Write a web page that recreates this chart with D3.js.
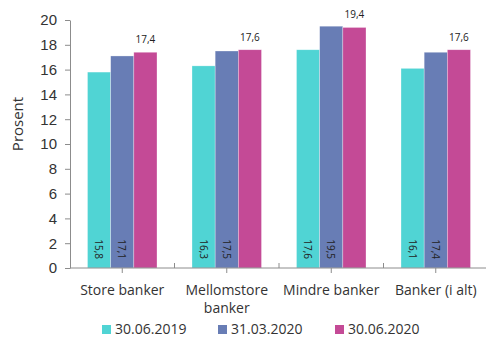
<!DOCTYPE html>
<html>
<head>
<meta charset="utf-8">
<script src="https://cdn.jsdelivr.net/npm/d3@7"></script>
<style>
  body { margin: 0; background: #fff; }
  svg { font-family: "Open Sans", sans-serif; }
</style>
</head>
<body>
<svg id="chart" width="486" height="338"></svg>
<script>
// categories and tick labels
const categories = ["Store banker", "Mellomstore banker", "Mindre banker", "Banker (i alt)"];
const categoryLines = [["Store banker"], ["Mellomstore", "banker"], ["Mindre banker"], ["Banker (i alt)"]];
const seriesNames = ["30.06.2019", "31.03.2020", "30.06.2020"];
const seriesColors = ["#50d4d4", "#687db5", "#c44a96"];
const yTicks = [0, 2, 4, 6, 8, 10, 12, 14, 16, 18, 20];

// series values
const values2019 = [15.8, 16.3, 17.6, 16.1];
const valuesMar2020 = [17.1, 17.5, 19.5, 17.4];
const valuesJun2020 = [17.4, 17.6, 19.4, 17.6];
const seriesValues = [values2019, valuesMar2020, valuesJun2020];

const fmt = v => d3.format(".1f")(v).replace(".", ",");

const svg = d3.select("#chart");
const plotLeft = 70, plotRight = 488, plotTop = 20, plotBottom = 268;

const x = d3.scaleBand().domain(categories).range([plotLeft, plotRight]).padding(0);
const x1 = d3.scaleBand().domain(d3.range(seriesNames.length))
    .range([17.5, x.bandwidth() - 17.5]).padding(0);
const y = d3.scaleLinear().domain([0, 20]).range([plotBottom, plotTop]);

// y axis
const yAxis = svg.append("g")
    .attr("transform", "translate(" + plotLeft + ",0)")
    .call(d3.axisLeft(y).tickValues(yTicks).tickSize(5).tickSizeOuter(0).tickPadding(8));
yAxis.select(".domain").attr("stroke", "#8c8c8c");
yAxis.selectAll(".tick line").attr("stroke", "#8c8c8c");
yAxis.selectAll(".tick text").attr("font-size", 15).attr("fill", "#333");

svg.append("text")
    .attr("transform", "translate(23,124) rotate(-90)")
    .attr("text-anchor", "middle")
    .attr("font-size", 15)
    .attr("fill", "#333")
    .text("Prosent");

// bars
const groups = svg.selectAll(".grp")
    .data(categories)
    .enter().append("g")
    .attr("class", "grp")
    .attr("transform", d => "translate(" + x(d) + ",0)");

seriesValues.forEach((vals, s) => {
    groups.append("rect")
        .attr("x", x1(s))
        .attr("width", x1.bandwidth())
        .attr("y", (d, i) => y(vals[i]))
        .attr("height", (d, i) => y(0) - y(vals[i]))
        .attr("fill", seriesColors[s])
        .attr("stroke", "#fff")
        .attr("stroke-opacity", 0.5)
        .attr("stroke-width", 0.6);
});

// rotated labels inside bars for the first two series
[0, 1].forEach(s => {
    groups.append("text")
        .attr("transform", (d, i) => "translate(" + (x1(s) + x1.bandwidth() / 2 - 4) + "," + (plotBottom - 9) + ") rotate(90)")
        .attr("text-anchor", "end")
        .attr("font-size", 10)
        .attr("fill", "#222")
        .text((d, i) => fmt(seriesValues[s][i]));
});

// labels above the last series
groups.append("text")
    .attr("x", x1(2) + x1.bandwidth() / 2)
    .attr("y", (d, i) => y(valuesJun2020[i]) - 9)
    .attr("text-anchor", "middle")
    .attr("font-size", 10)
    .attr("fill", "#222")
    .text((d, i) => fmt(valuesJun2020[i]));

// x axis
const xAxis = svg.append("g")
    .attr("transform", "translate(0," + plotBottom + ")")
    .call(d3.axisBottom(x).tickSize(5).tickSizeOuter(0).tickFormat(""));
xAxis.select(".domain").attr("stroke", "#8c8c8c").attr("d", "M" + plotLeft + ",0H" + plotRight);
xAxis.selectAll(".tick line").attr("stroke", "#8c8c8c");

// boundary ticks pointing up
svg.append("g").selectAll("line")
    .data(categories.slice(1))
    .enter().append("line")
    .attr("x1", d => x(d)).attr("x2", d => x(d))
    .attr("y1", plotBottom - 5).attr("y2", plotBottom)
    .attr("stroke", "#8c8c8c");

// category labels
const catLabels = svg.append("g").selectAll("text")
    .data(categories)
    .enter().append("text")
    .attr("x", d => x(d) + x.bandwidth() / 2)
    .attr("y", 295)
    .attr("text-anchor", "middle")
    .attr("font-size", 14)
    .attr("fill", "#333");
catLabels.each(function(d, i) {
    d3.select(this).selectAll("tspan")
        .data(categoryLines[i])
        .enter().append("tspan")
        .attr("x", x(d) + x.bandwidth() / 2)
        .attr("dy", (t, j) => j === 0 ? 0 : 18)
        .text(t => t);
});

// legend
const legendX = [102, 218, 335];
const legend = svg.append("g").selectAll("g")
    .data(seriesNames)
    .enter().append("g")
    .attr("transform", (d, i) => "translate(" + legendX[i] + ",325)");
legend.append("rect")
    .attr("width", 9).attr("height", 9)
    .attr("fill", (d, i) => seriesColors[i]);
legend.append("text")
    .attr("x", 13).attr("y", 9)
    .attr("font-size", 14)
    .attr("fill", "#333")
    .text(d => d);
</script>
</body>
</html>
